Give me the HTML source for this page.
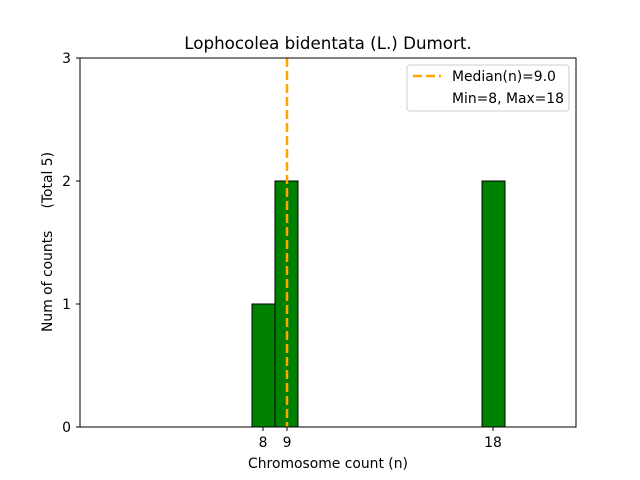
<!DOCTYPE html>
<html><head><style>body{margin:0;background:#fff}svg{display:block}</style></head><body>
<svg width="640" height="480" xmlns="http://www.w3.org/2000/svg" font-family="DejaVu Sans, Liberation Sans, sans-serif">
<rect width="640" height="480" fill="#fff"/>
<rect x="252" y="304" width="23" height="123" fill="#008000" stroke="#000" stroke-width="1"/>
<rect x="275" y="181" width="23" height="246" fill="#008000" stroke="#000" stroke-width="1"/>
<rect x="482" y="181" width="23" height="246" fill="#008000" stroke="#000" stroke-width="1"/>
<line x1="287" y1="58" x2="287" y2="427" stroke="orange" stroke-width="2.5" stroke-dasharray="9,4"/>
<rect x="80" y="58" width="496" height="369" fill="none" stroke="#000" stroke-width="1"/>
<g stroke="#000" stroke-width="1">
<line x1="263" y1="427" x2="263" y2="431"/><line x1="287" y1="427" x2="287" y2="431"/><line x1="493" y1="427" x2="493" y2="431"/>
<line x1="76" y1="427" x2="80" y2="427"/><line x1="76" y1="304" x2="80" y2="304"/><line x1="76" y1="181" x2="80" y2="181"/><line x1="76" y1="58" x2="80" y2="58"/>
</g>
<g font-size="13.9" fill="#000">
<text x="263" y="447" text-anchor="middle">8</text>
<text x="287" y="447" text-anchor="middle">9</text>
<text x="493" y="447" text-anchor="middle">18</text>
<text x="71" y="432" text-anchor="end">0</text>
<text x="71" y="309" text-anchor="end">1</text>
<text x="71" y="186" text-anchor="end">2</text>
<text x="71" y="63" text-anchor="end">3</text>
<text x="328" y="468" text-anchor="middle">Chromosome count (n)</text>
<text transform="translate(52,242) rotate(-90)" text-anchor="middle" xml:space="preserve">Num of counts     (Total 5)</text>
</g>
<text x="328" y="49" text-anchor="middle" font-size="16.7">Lophocolea bidentata (L.) Dumort.</text>
<rect x="407" y="65" width="162" height="46" rx="3" fill="#fff" stroke="#ccc"/>
<line x1="413" y1="76" x2="441" y2="76" stroke="orange" stroke-width="2.5" stroke-dasharray="9,4"/>
<text x="452" y="81" font-size="13.9">Median(n)=9.0</text>
<text x="452" y="103" font-size="13.9">Min=8, Max=18</text>
</svg>
</body></html>
